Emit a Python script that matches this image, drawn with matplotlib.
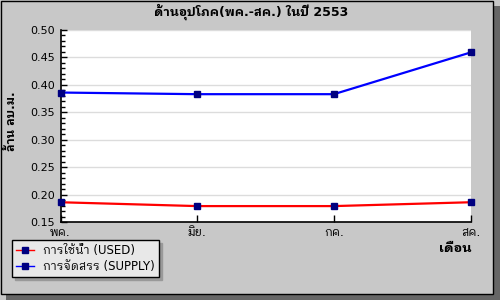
import matplotlib as mpl
mpl.use('Agg')
import matplotlib.pyplot as plt
from matplotlib import font_manager
from matplotlib.patches import Rectangle
from matplotlib.ticker import MultipleLocator

# monthly water figures, million cubic metres
months = ['พค.', 'มิย.', 'กค.', 'สค.']
used = [0.186, 0.179, 0.179, 0.186]
supply = [0.386, 0.383, 0.383, 0.459]
series_names = ['การใช้น้ำ (USED)', 'การจัดสรร (SUPPLY)']

# pick a Thai-capable family that is installed (looped, with a bold face)
names = set(f.name for f in font_manager.fontManager.ttflist)
thai = [n for n in ('IBM Plex Sans Thai Looped', 'Noto Sans Thai Looped',
                    'Noto Sans Thai', 'Sarabun') if n in names][:1]
plt.rcParams['font.family'] = ['DejaVu Sans'] + thai
plt.rcParams['font.size'] = 8

fig = plt.figure(figsize=(5, 3), dpi=100)
fig.patch.set_facecolor('#c8c8c8')

# outer panel with drop shadow
fig.patches.append(Rectangle((6 / 500, 0), 494 / 500, 294 / 300,
                             transform=fig.transFigure, facecolor='#666666',
                             edgecolor='none', zorder=-3))
fig.patches.append(Rectangle((0.5 / 500, 6 / 300), 492 / 500, 293 / 300,
                             transform=fig.transFigure, facecolor='#c8c8c8',
                             edgecolor='black', linewidth=1, zorder=-2))

ax = fig.add_axes([60.5 / 500, 1 - 222 / 300, 410 / 500, 192 / 300])
ax.set_facecolor('white')
xs = range(len(months))
l1, = ax.plot(xs, used, color='red', lw=1.6, marker='s', ms=4.5,
              mfc='#000080', mec='#000080', clip_on=False, zorder=3)
l2, = ax.plot(xs, supply, color='blue', lw=1.6, marker='s', ms=4.5,
              mfc='#000080', mec='#000080', clip_on=False, zorder=3)

ax.set_xlim(0, len(months) - 1)
ax.set_ylim(0.15, 0.50)
ax.set_xticks(list(xs))
ax.set_xticklabels(months, fontsize=8.5)
ax.yaxis.set_major_locator(MultipleLocator(0.05))
ax.yaxis.set_minor_locator(MultipleLocator(0.01))
ax.yaxis.set_major_formatter(plt.FormatStrFormatter('%.2f'))
ax.tick_params(axis='y', which='major', direction='in', length=4, width=1, pad=4)
ax.tick_params(axis='y', which='minor', direction='in', length=3, width=1)
ax.tick_params(axis='x', direction='in', length=5, width=1, pad=3)
ax.grid(axis='y', which='major', color='#dcdcdc', lw=1)
ax.set_axisbelow(True)
for s in ('top', 'right'):
    ax.spines[s].set_visible(False)
for s in ('left', 'bottom'):
    ax.spines[s].set_linewidth(1.2)

fig.text(251 / 500, 1 - 12 / 300, 'ด้านอุปโภค(พค.-สค.) ในปี 2553',
         ha='center', va='center', fontweight='bold', fontsize=9)
fig.text(12 / 500, 1 - 121 / 300, 'ล้าน ลบ.ม.', rotation=90,
         ha='center', va='center', fontweight='bold', fontsize=8.5)
fig.text(472 / 500, 1 - 249 / 300, 'เดือน', ha='right', va='center',
         fontweight='bold', fontsize=9.5)

leg = fig.legend([l1, l2], series_names, loc='upper left',
                 bbox_to_anchor=(12 / 500, 1 - 240 / 300), fancybox=False,
                 framealpha=1, facecolor='#e8e8e8', edgecolor='black',
                 shadow={'color': '#999999', 'alpha': 1}, fontsize=8.5,
                 handlelength=1.5, handletextpad=0.8, borderpad=0.35,
                 labelspacing=0.25, borderaxespad=0)
leg.get_frame().set_linewidth(1)
for h in leg.legend_handles:
    h.set_linewidth(1)

fig.savefig('out.png', dpi=100)
